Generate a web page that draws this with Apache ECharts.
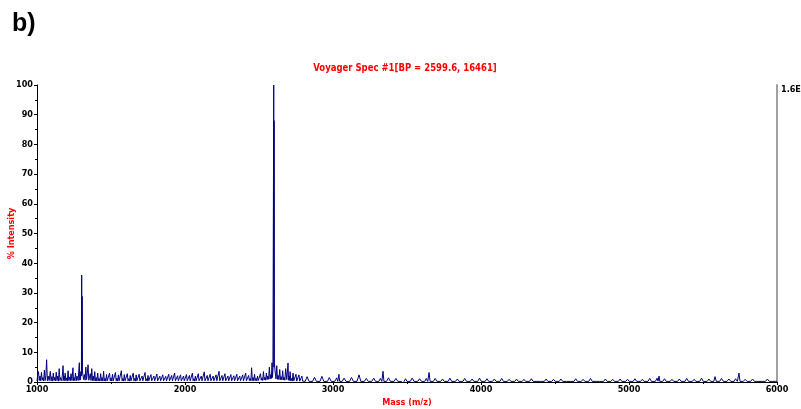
<!DOCTYPE html>
<html>
<head>
<meta charset="utf-8">
<script src="https://cdn.jsdelivr.net/npm/echarts@6/dist/echarts.min.js"></script>
<style>
html,body{margin:0;padding:0;background:#fff;}
#chart{width:801px;height:409px;}
</style>
</head>
<body>
<div id="chart"></div>
<script>
// ---- data (mass m/z, % intensity) ----
const panelLabel = "b)";
const titleText = "Voyager Spec #1[BP = 2599.6, 16461]";
const yAxisTitle = "% Intensity";
const xAxisTitle = "Mass (m/z)";
const rightAxisLabel = "1.6E+4";
const xTicks = [1000, 2000, 3000, 4000, 5000, 6000];
const yTicks = [0, 10, 20, 30, 40, 50, 60, 70, 80, 90, 100];

const spectrumA = [
  [1000,0.4],[1005,2.5],[1010,3.5],[1015,0.5],[1020,2.0],[1025,0.4],[1030,3.2],[1035,0.6],[1040,1.5],[1045,0.3],[1050,4.0],[1055,0.5],[1060,2.2],[1065,7.5],[1070,0.4],[1075,2.0],[1082,0.5],[1090,3.6],[1095,0.4],
  [1100,1.8],[1105,0.3],[1110,3.0],[1115,0.5],[1120,1.6],[1125,0.4],[1130,3.3],[1135,0.5],[1140,2.0],[1145,0.3],[1150,4.5],[1155,0.5],[1160,1.5],[1168,0.4],[1176,5.5],[1180,0.5],[1185,2.0],[1188,0.4],[1190,3.0],[1195,0.5],
  [1200,1.4],[1205,0.3],[1210,3.8],[1215,0.5],[1220,1.7],[1225,0.4],[1230,2.8],[1236,0.5],[1243,4.8],[1246,0.4],[1250,1.5],[1255,0.5],[1260,3.0],[1265,0.4],[1270,2.0],[1278,0.5],[1286,6.5],[1289,0.6],[1292,2.5],[1294,0.8],[1296,3.5]
];
const peakA = [[1300,2.0],[1302,36],[1303.5,3.0],[1305,28.8],[1307,3.5]];
const spectrumB = [
  [1310,4.0],[1315,0.8],[1320,2.5],[1325,0.6],[1330,5.0],[1335,0.8],[1340,3.0],[1345,5.8],[1350,0.6],[1360,2.8],[1365,0.5],[1370,4.5],[1375,0.5],[1380,2.0],[1385,0.4],[1390,3.5],[1395,0.4],
  [1400,1.5],[1405,0.3],[1410,3.0],[1415,0.4],[1420,1.2],[1425,0.3],[1430,2.8],[1435,0.4],[1440,1.5],[1445,0.3],[1450,3.6],[1455,0.4],[1460,1.2],[1465,0.3],[1470,2.5],[1475,0.4],[1480,1.0],[1485,0.3],[1490,3.0],[1495,0.4],
  [1500,1.4],[1505,0.3],[1510,2.6],[1515,0.4],[1520,1.0],[1525,0.3],[1530,3.2],[1535,0.4],[1540,1.3],[1545,0.3],[1550,2.4],[1555,0.4],[1560,1.0],[1565,0.3],[1570,3.8],[1575,0.4],[1580,1.2],[1585,0.3],[1590,2.5],[1595,0.4],
  [1600,1.0],[1605,0.3],[1610,2.8],[1615,0.4],[1620,1.1],[1625,0.3],[1630,2.2],[1635,0.4],[1640,0.9],[1645,0.3],[1650,3.0],[1655,0.4],[1660,1.2],[1665,0.3],[1670,2.4],[1675,0.4],[1680,0.8],[1685,0.3],[1690,2.6],[1695,0.4],
  [1700,1.0],[1705,0.3],[1710,2.0],[1715,0.4],[1720,0.9],[1725,0.3],[1730,3.2],[1735,0.4],[1740,1.1],[1745,0.3],[1750,2.2],[1755,0.4],[1760,0.8],[1765,0.3],[1770,2.5],[1775,0.4],[1780,1.0],[1785,0.3],[1790,2.0],[1795,0.4],
  [1800,0.9],[1805,0.3],[1810,2.7],[1815,0.4],[1820,1.0],[1825,0.3],[1830,2.0],[1835,0.4],[1840,0.8],[1845,0.3],[1850,2.4],[1855,0.4],[1860,1.0],[1865,0.3],[1870,1.9],[1875,0.4],[1880,0.8],[1885,0.3],[1890,2.6],[1895,0.4],
  [1900,1.0],[1905,0.3],[1910,2.2],[1915,0.4],[1920,0.9],[1925,0.3],[1930,3.0],[1935,0.4],[1940,1.0],[1945,0.3],[1950,2.1],[1955,0.4],[1960,0.8],[1965,0.3],[1970,2.4],[1975,0.4],[1980,1.0],[1985,0.3],[1990,2.0],[1995,0.4],
  [2000,0.9],[2005,0.3],[2010,2.5],[2015,0.4],[2020,1.0],[2025,0.3],[2030,2.2],[2035,0.4],[2040,0.8],[2045,0.3],[2050,3.0],[2055,0.4],[2060,1.1],[2065,0.3],[2070,2.0],[2075,0.4],[2080,0.9],[2085,0.3],[2090,2.8],[2095,0.4],
  [2100,1.0],[2105,0.3],[2110,2.0],[2115,0.4],[2120,0.8],[2125,0.3],[2130,3.4],[2135,0.4],[2140,1.0],[2145,0.3],[2150,2.2],[2155,0.4],[2160,0.9],[2165,0.3],[2170,2.6],[2175,0.4],[2180,1.0],[2185,0.3],[2190,2.0],[2195,0.4],
  [2200,0.8],[2205,0.3],[2210,2.4],[2215,0.4],[2220,1.0],[2225,0.3],[2230,3.6],[2235,0.4],[2240,0.9],[2245,0.3],[2250,2.2],[2255,0.4],[2260,1.0],[2265,0.3],[2270,2.8],[2275,0.4],[2280,0.8],[2285,0.3],[2290,2.0],[2295,0.4],
  [2300,1.0],[2305,0.3],[2310,2.5],[2315,0.4],[2320,0.9],[2325,0.3],[2330,2.1],[2335,0.4],[2340,1.0],[2345,0.3],[2350,2.6],[2355,0.4],[2360,0.8],[2365,0.3],[2370,2.0],[2375,0.4],[2380,1.0],[2385,0.3],[2390,2.4],[2395,0.4],
  [2400,0.9],[2405,0.3],[2410,3.0],[2415,0.4],[2420,1.0],[2425,0.3],[2430,2.2],[2435,0.5],[2440,1.2],[2445,0.4],[2450,4.8],[2455,0.5],[2460,1.5],[2465,0.4],[2470,2.6],[2475,0.5],[2480,1.2],[2485,0.4],[2490,2.0],[2495,0.5],
  [2500,1.0],[2505,0.5],[2510,2.8],[2515,0.6],[2520,1.4],[2525,0.5],[2530,3.5],[2535,0.7],[2540,1.6],[2545,0.6],[2550,3.0],[2555,0.8],[2560,2.0],[2565,0.9],[2570,5.0],[2575,1.0],[2580,2.5],[2584,1.2],[2588,6.5],[2591,1.5],[2594,4.0]
];
const peakB = [[2598.5,4.5],[2599.6,100],[2600.8,5.0],[2602,88],[2603.5,6.5]];
const spectrumC = [
  [2610,3.0],[2615,1.0],[2620,5.5],[2625,0.9],[2630,2.2],[2635,0.8],[2640,4.2],[2645,0.8],[2650,1.8],[2655,0.7],[2660,3.8],[2665,0.7],[2670,1.6],[2675,0.6],[2680,4.5],[2688,0.8],[2696,6.4],[2700,0.6],[2705,2.0],[2708,0.5],
  [2710,3.5],[2715,0.4],[2720,1.2],[2725,0.3],[2730,3.0],[2735,0.4],[2740,1.0],[2745,0.3],[2750,2.6],[2755,0.3],[2760,0.8],[2765,0.3],[2770,2.4],[2775,0.3],[2780,0.9],[2785,0.2],[2790,2.0],[2795,0.3],[2800,0.7],
  [2812,0.2],[2825,1.8],[2838,0.2],[2850,0.6],[2862,0.2],[2875,1.6],[2888,0.2],[2900,0.5],[2912,0.2],[2925,1.9],[2938,0.2],[2950,0.6],[2962,0.2],[2975,1.5],[2988,0.2],[3000,0.5],[3012,0.2],[3025,1.4],[3032,0.2],[3040,2.6],
  [3045,0.2],[3050,0.5],[3062,0.2],[3075,1.3],[3088,0.2],[3100,0.4],[3112,0.2],[3125,1.5],[3138,0.2],[3150,0.5],[3162,0.2],[3176,2.4],[3188,0.2],[3200,0.5],[3212,0.2],[3225,1.2],[3238,0.2],[3250,0.4],[3262,0.2],[3275,1.3],
  [3288,0.2],[3300,0.5],[3310,0.2],[3320,1.2],[3330,0.2],[3338,3.6],[3344,0.2],[3350,0.5],[3362,0.2],[3375,1.4],[3388,0.2],[3400,0.4],[3412,0.2],[3425,1.2],[3438,0.2],[3450,0.5],[3462,0.2],[3473,-0.5],[3480,0.2],[3490,1.1],
  [3500,0.2],[3510,0.4],[3522,0.2],[3535,1.3],[3548,0.2],[3560,0.5],[3572,0.2],[3585,1.1],[3598,0.2],[3610,0.4],[3620,0.2],[3630,1.2],[3640,0.2],[3649,3.2],[3656,0.2],[3665,0.5],[3678,0.2],[3690,1.2],[3702,0.2],[3715,0.4],
  [3728,0.2],[3740,1.0],[3752,0.2],[3765,0.5],[3778,0.2],[3790,1.3],[3802,0.2],[3815,0.4],[3828,0.2],[3840,1.0],[3852,0.2],[3865,0.5],[3878,0.2],[3890,1.2],[3902,0.2],[3915,0.3],[3928,0.2],[3940,1.0],[3952,0.2],[3965,0.4],
  [3978,0.2],[3990,1.3],[4002,0.2],[4015,0.3],[4028,0.2],[4040,1.1],[4052,0.2],[4065,0.4],[4078,0.2],[4090,1.0],[4102,0.2],[4115,0.3],[4128,0.2],[4140,1.2],[4152,0.2],[4165,0.4],[4178,0.2],[4190,0.9],[4202,0.2],[4215,0.3],
  [4228,0.2],[4240,1.0],[4252,0.2],[4265,0.4],[4278,0.2],[4290,0.9],[4302,0.2],[4315,0.3],[4328,0.2],[4340,1.1],[4352,0.2],[4365,0.4],[4378,0.2],[4390,0.8],[4402,0.2],[4415,0.3],[4428,0.2],[4440,1.0],[4452,0.2],[4465,0.3],
  [4478,0.2],[4490,0.9],[4502,0.2],[4515,0.3],[4528,0.2],[4540,1.0],[4552,0.2],[4565,0.3],[4578,0.2],[4590,0.8],[4602,0.2],[4615,0.3],[4628,0.2],[4640,1.1],[4652,0.2],[4665,0.3],[4678,0.2],[4690,0.9],[4702,0.2],[4715,0.4],
  [4728,0.2],[4740,1.2],[4752,0.2],[4765,0.3],[4778,0.2],[4790,0.8],[4802,0.2],[4815,0.3],[4828,0.2],[4840,1.0],[4852,0.2],[4865,0.3],[4878,0.2],[4890,0.9],[4902,0.2],[4915,0.3],[4928,0.2],[4940,1.0],[4952,0.2],[4965,0.4],
  [4978,0.2],[4990,0.9],[5002,0.2],[5015,0.3],[5028,0.2],[5040,1.1],[5052,0.2],[5065,0.3],[5078,0.2],[5090,0.9],[5102,0.2],[5115,0.4],[5128,0.2],[5140,1.2],[5152,0.2],[5165,0.4],[5178,0.2],[5190,1.3],[5196,0.3],[5203,2.0],
  [5208,0.2],[5215,0.5],[5228,0.2],[5240,1.1],[5252,0.2],[5265,0.3],[5278,0.2],[5290,0.9],[5302,0.2],[5315,0.4],[5328,0.2],[5340,1.0],[5352,0.2],[5365,0.3],[5378,0.2],[5390,1.2],[5402,0.2],[5415,0.4],[5428,0.2],[5440,0.9],
  [5452,0.2],[5465,0.3],[5478,0.2],[5490,1.3],[5502,0.2],[5515,0.4],[5528,0.2],[5540,1.0],[5552,0.2],[5565,0.4],[5573,0.2],[5581,1.8],[5590,0.2],[5600,0.4],[5612,0.2],[5625,1.2],[5638,0.2],[5650,0.3],[5662,0.2],[5675,1.0],
  [5688,0.2],[5700,0.4],[5710,0.2],[5720,1.1],[5732,0.2],[5743,3.0],[5750,0.2],[5760,0.4],[5772,0.2],[5785,0.9],[5798,0.2],[5810,0.3],[5822,0.2],[5835,1.0],[5848,0.2],[5860,0.3],[5872,0.2],[5885,0.8],[5898,0.2],[5910,0.3],
  [5922,0.2],[5935,1.0],[5948,0.2],[5960,0.3],[5972,0.2],[5985,0.7],[5992,0.2],[6000,0.3]
];

const spectrum = spectrumA.concat(peakA, spectrumB, peakB, spectrumC);

const NARROW = "'DejaVu Sans Condensed', 'Liberation Sans', sans-serif";
const SANS = "'Liberation Sans', Arial, sans-serif";

const chart = echarts.init(document.getElementById('chart'), null, {renderer: 'canvas'});
chart.setOption({
  animation: false,
  backgroundColor: '#ffffff',
  grid: {left: 37, right: 24, top: 85, bottom: 27, containLabel: false, outerBoundsMode: 'none'},
  xAxis: {
    type: 'value', min: xTicks[0], max: xTicks[xTicks.length - 1], interval: 1000,
    name: xAxisTitle, nameLocation: 'middle', nameGap: 16, nameMoveOverlap: false,
    nameTextStyle: {color: '#ff0000', fontFamily: NARROW, fontWeight: 'bold', fontSize: 9},
    axisLine: {show: true, lineStyle: {color: '#000', width: 1}},
    axisTick: {show: true, length: 3, lineStyle: {color: '#000'}},
    minorTick: {show: true, splitNumber: 2, length: 2, lineStyle: {color: '#000'}},
    axisLabel: {color: '#000', fontFamily: NARROW, fontWeight: 'bold', fontSize: 9, margin: 3,
                formatter: v => String(v)},
    splitLine: {show: false}
  },
  yAxis: [{
    type: 'value', min: yTicks[0], max: yTicks[yTicks.length - 1], interval: 10,
    name: yAxisTitle, nameLocation: 'middle', nameGap: 21, nameRotate: 90, nameMoveOverlap: false,
    nameTextStyle: {color: '#ff0000', fontFamily: NARROW, fontWeight: 'bold', fontSize: 9},
    axisLine: {show: true, lineStyle: {color: '#000', width: 1}},
    axisTick: {show: true, length: 3, lineStyle: {color: '#000'}},
    minorTick: {show: true, splitNumber: 2, length: 2, lineStyle: {color: '#000'}},
    axisLabel: {color: '#000', fontFamily: NARROW, fontWeight: 'bold', fontSize: 9, margin: 4,
                formatter: v => String(v)},
    splitLine: {show: false}
  }, {
    type: 'value', position: 'right', min: 0, max: 100, interval: 10,
    axisLine: {show: true, lineStyle: {color: '#a0a0a0', width: 2}},
    axisTick: {show: false}, axisLabel: {show: false}, splitLine: {show: false}
  }],
  graphic: [
    {type: 'text', left: 12, top: 12,
     style: {text: panelLabel, fill: '#000', font: 'bold 25px ' + SANS}},
    {type: 'text', x: 405, y: 68, scaleX: 0.86,
     style: {text: titleText, fill: '#ff0000', font: 'bold 11px ' + NARROW, align: 'center', verticalAlign: 'middle'}},
    {type: 'text', x: 781, y: 90,
     style: {text: rightAxisLabel, fill: '#000', font: 'bold 9px ' + NARROW, verticalAlign: 'middle'}}
  ],
  series: [{
    type: 'line', data: spectrum, yAxisIndex: 0,
    symbol: 'none', smooth: false,
    lineStyle: {color: '#000080', width: 1},
    itemStyle: {color: '#000080'}
  }]
});
</script>
</body>
</html>
